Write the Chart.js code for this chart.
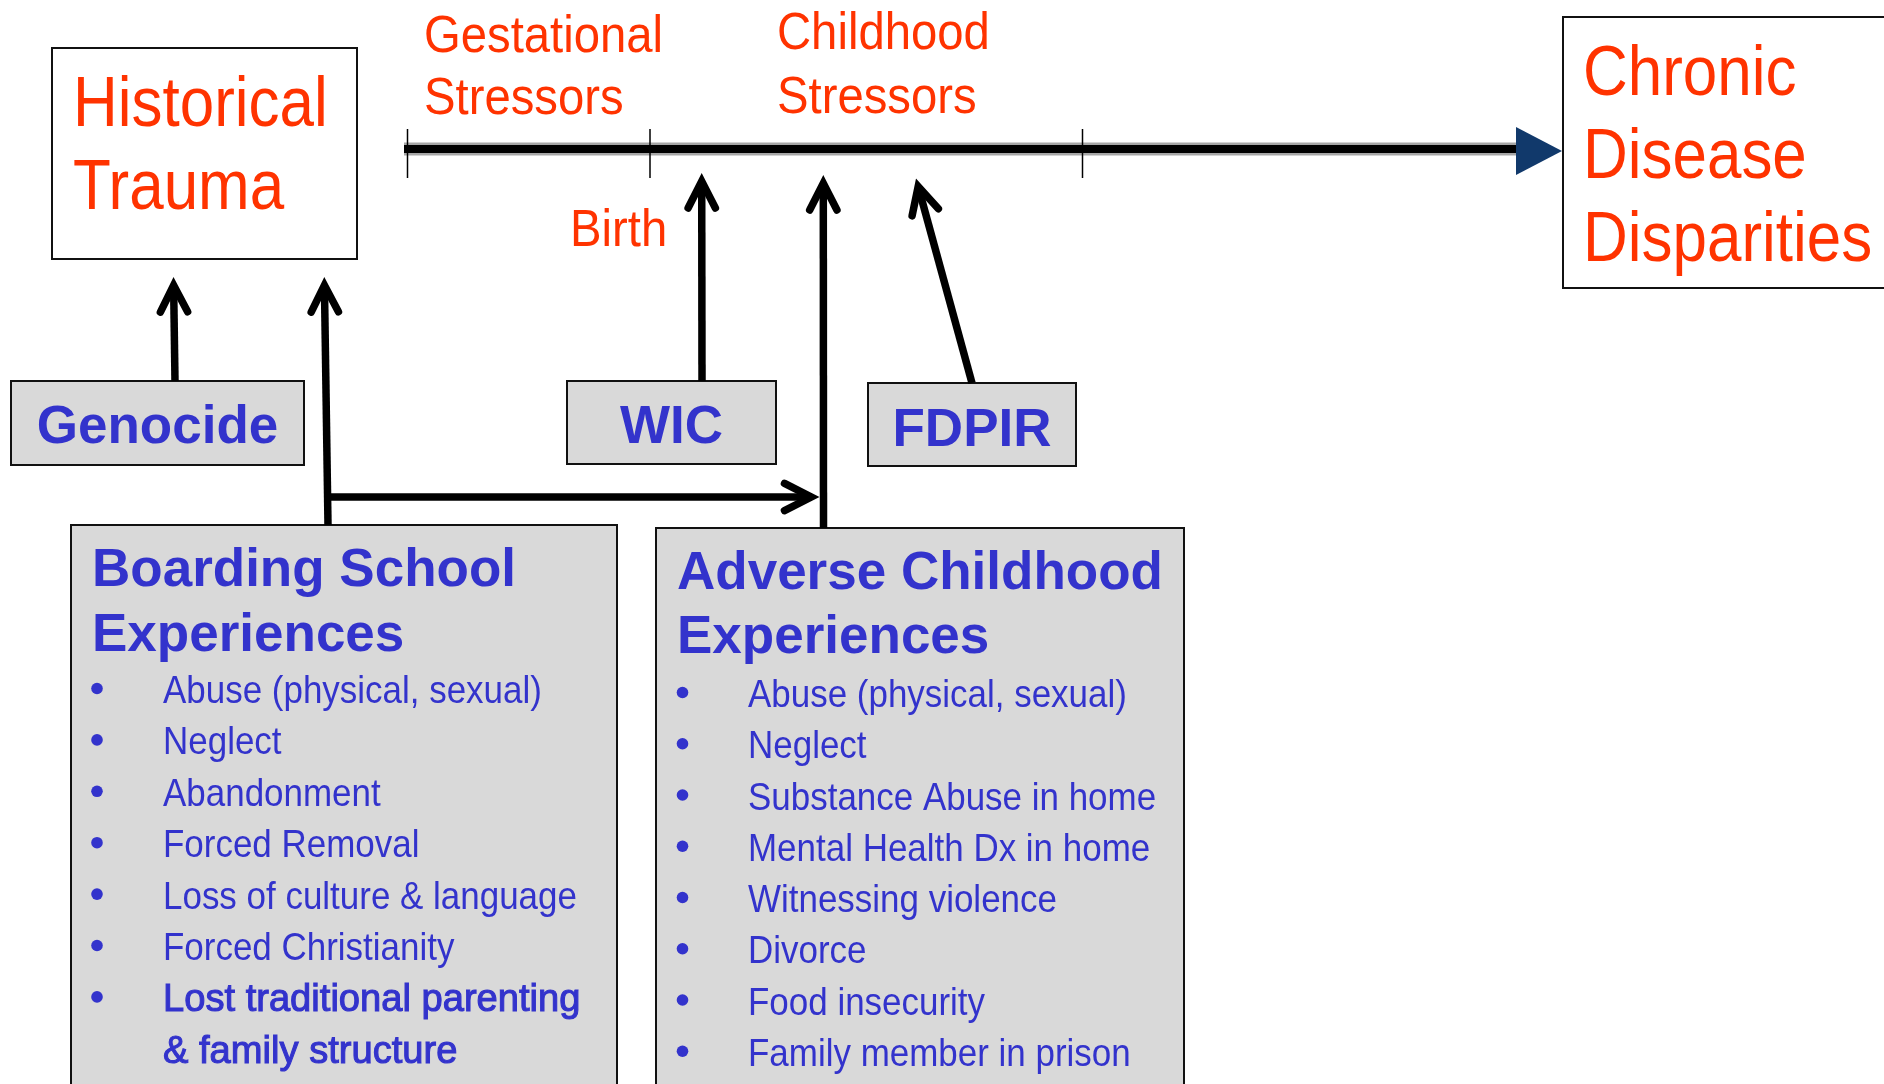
<!DOCTYPE html>
<html>
<head>
<meta charset="utf-8">
<script src="https://cdn.jsdelivr.net/npm/chart.js@4.4.0/dist/chart.umd.min.js"></script>
<style>
  html, body { margin: 0; padding: 0; background: #ffffff; overflow: hidden; }
  #wrap { width: 1884px; height: 1084px; position: relative; }
</style>
</head>
<body>
<div id="wrap"><canvas id="c"></canvas></div>
<script>
// ---------- content (data) ----------
const originLabel = ['Historical', 'Trauma'];
const outcomeLabel = ['Chronic', 'Disease', 'Disparities'];
const stageLabels = [['Gestational', 'Stressors'], ['Childhood', 'Stressors']];
const milestoneLabel = 'Birth';
const programLabels = ['Genocide', 'WIC', 'FDPIR'];
const boardingTitle = ['Boarding School', 'Experiences'];
const boardingItems = ['Abuse (physical, sexual)', 'Neglect', 'Abandonment', 'Forced Removal',
  'Loss of culture & language', 'Forced Christianity', 'Lost traditional parenting', '& family structure'];
const boardingBoldFrom = 6;
const aceTitle = ['Adverse Childhood', 'Experiences'];
const aceItems = ['Abuse (physical, sexual)', 'Neglect', 'Substance Abuse in home', 'Mental Health Dx in home',
  'Witnessing violence', 'Divorce', 'Food insecurity', 'Family member in prison'];

// ---------- layout & style (positions in diagram units = px) ----------
const RED = '#ff3300', BLUE = '#3333cc', GRAY = '#d9d9d9', INK = '#111111';
const NARROW = 0.885;
const HEAVY_STRETCH = 0.965;
const layout = {
  origin: { box: [52, 48, 357, 259], x: 73, base: [126, 209], size: 70 },
  outcome: { box: [1563, 17, 1910, 288], x: 1583, base: [95, 178, 261], size: 70 },
  stages: [{ x: 424, base: [52, 114] }, { x: 777, base: [49, 113] }], stageSize: 52.5,
  milestone: { x: 570, base: 246, size: 52.5 },
  timeline: { y: 149, x0: 404, x1: 1516, ticks: [407.5, 650, 1082.5], tickTop: 129, tickBottom: 178,
              head: [1516, 127, 1516, 175, 1562, 151] },
  programs: [
    { box: [11, 381, 304, 465], base: 443 },
    { box: [567, 381, 776, 464], base: 443 },
    { box: [868, 383, 1076, 466], base: 446 }
  ], programSize: 53,
  boarding: { box: [71, 525, 617, 1110], titleX: 92, titleBase: [586, 651], bulletX: 97, itemX: 163, itemBase0: 703, step: 51.4 },
  ace: { box: [656, 528, 1184, 1110], titleX: 677, titleBase: [589, 653], bulletX: 682.5, itemX: 748, itemBase0: 707, step: 51.25 },
  titleSize: 53, itemSize: 39.5,
  arrows: [
    { from: [175, 381], to: [173.5, 277] },
    { from: [328, 525], to: [324.3, 277] },
    { from: [328, 497], to: [819.5, 497] },
    { from: [702, 381], to: [701.7, 173] },
    { from: [823.5, 528], to: [823.3, 175] },
    { from: [972, 383], to: [916, 178.5] }
  ],
  arrowWidth: 7.5
};

const diagramPlugin = {
  id: 'diagram',
  afterDraw(chart) {
    const ctx = chart.ctx;
    const sx = chart.scales.x, sy = chart.scales.y;
    const X = v => sx.getPixelForValue(v);
    const Y = v => sy.getPixelForValue(v);

    function rect(b, fill, lw) {
      ctx.save();
      ctx.fillStyle = fill;
      ctx.fillRect(X(b[0]), Y(b[1]), X(b[2]) - X(b[0]), Y(b[3]) - Y(b[1]));
      ctx.lineWidth = lw || 2;
      ctx.strokeStyle = INK;
      ctx.strokeRect(X(b[0]), Y(b[1]), X(b[2]) - X(b[0]), Y(b[3]) - Y(b[1]));
      ctx.restore();
    }
    function text(t, x, y, size, color, opts) {
      opts = opts || {};
      ctx.save();
      ctx.font = (opts.bold ? 'bold ' : '') + size + 'px "Liberation Sans", Arial, sans-serif';
      ctx.fillStyle = color;
      ctx.textBaseline = 'alphabetic';
      const stretch = opts.stretch || 1;
      let px = X(x);
      if (opts.center) px -= ctx.measureText(t).width * stretch / 2;
      ctx.translate(px, Y(y));
      ctx.scale(stretch, 1);
      ctx.fillText(t, 0, 0);
      if (opts.heavy) { ctx.lineWidth = opts.heavy; ctx.strokeStyle = color; ctx.strokeText(t, 0, 0); }
      ctx.restore();
    }
    function arrow(a) {
      const [x1, y1] = a.from, [x2, y2] = a.to;
      const dx = x2 - x1, dy = y2 - y1, L = Math.hypot(dx, dy);
      const ux = dx / L, uy = dy / L;
      const w = layout.arrowWidth;
      const off = (w / 2) / Math.sin(Math.PI * 27 / 180);
      const tx = x2 - ux * off, ty = y2 - uy * off;
      const wl = 30, ang = Math.PI * 27 / 180;
      const c = Math.cos(ang), s = Math.sin(ang);
      const bx = -ux, by = -uy;
      const w1 = [tx + wl * (bx * c - by * s), ty + wl * (bx * s + by * c)];
      const w2 = [tx + wl * (bx * c + by * s), ty + wl * (-bx * s + by * c)];
      ctx.save();
      ctx.strokeStyle = '#000';
      ctx.lineWidth = w;
      ctx.lineCap = 'butt';
      ctx.beginPath();
      ctx.moveTo(X(x1), Y(y1));
      ctx.lineTo(X(tx - ux * 2), Y(ty - uy * 2));
      ctx.stroke();
      ctx.lineCap = 'round';
      ctx.lineJoin = 'miter';
      ctx.miterLimit = 10;
      ctx.beginPath();
      ctx.moveTo(X(w1[0]), Y(w1[1]));
      ctx.lineTo(X(tx), Y(ty));
      ctx.lineTo(X(w2[0]), Y(w2[1]));
      ctx.stroke();
      ctx.restore();
    }

    // boxes
    rect(layout.origin.box, '#ffffff', 2);
    rect(layout.outcome.box, '#ffffff', 2);
    layout.programs.forEach(p => rect(p.box, GRAY, 2));
    rect(layout.boarding.box, GRAY, 2);
    rect(layout.ace.box, GRAY, 2);

    // timeline
    const tl = layout.timeline;
    ctx.save();
    ctx.lineCap = 'butt';
    ctx.strokeStyle = 'rgba(0,0,0,0.35)'; ctx.lineWidth = 13;
    ctx.beginPath(); ctx.moveTo(X(tl.x0), Y(tl.y)); ctx.lineTo(X(tl.x1), Y(tl.y)); ctx.stroke();
    ctx.strokeStyle = '#000'; ctx.lineWidth = 8;
    ctx.beginPath(); ctx.moveTo(X(tl.x0), Y(tl.y)); ctx.lineTo(X(tl.x1), Y(tl.y)); ctx.stroke();
    ctx.lineWidth = 1.5; ctx.strokeStyle = '#000';
    tl.ticks.forEach(t => { ctx.beginPath(); ctx.moveTo(X(t), Y(tl.tickTop)); ctx.lineTo(X(t), Y(tl.tickBottom)); ctx.stroke(); });
    const h = tl.head;
    ctx.fillStyle = '#11396b';
    ctx.beginPath(); ctx.moveTo(X(h[0]), Y(h[1])); ctx.lineTo(X(h[2]), Y(h[3])); ctx.lineTo(X(h[4]), Y(h[5])); ctx.closePath(); ctx.fill();
    ctx.restore();

    // arrows
    layout.arrows.forEach(arrow);

    // red texts
    originLabel.forEach((t, i) => text(t, layout.origin.x, layout.origin.base[i], layout.origin.size, RED, { stretch: NARROW }));
    outcomeLabel.forEach((t, i) => text(t, layout.outcome.x, layout.outcome.base[i], layout.outcome.size, RED, { stretch: NARROW }));
    stageLabels.forEach((lines, k) => lines.forEach((t, i) =>
      text(t, layout.stages[k].x, layout.stages[k].base[i], layout.stageSize, RED, { stretch: 0.9 })));
    text(milestoneLabel, layout.milestone.x, layout.milestone.base, layout.milestone.size, RED, { stretch: 0.9 });

    // program boxes
    programLabels.forEach((t, i) => {
      const p = layout.programs[i];
      text(t, (p.box[0] + p.box[2]) / 2, p.base, layout.programSize, BLUE, { bold: true, center: true });
    });

    // lists
    function list(cfg, title, items, boldFrom) {
      title.forEach((t, i) => text(t, cfg.titleX, cfg.titleBase[i], layout.titleSize, BLUE, { bold: true }));
      items.forEach((t, i) => {
        const base = cfg.itemBase0 + cfg.step * i;
        const isHeavy = boldFrom !== undefined && i >= boldFrom;
        const continuation = isHeavy && i > boldFrom;
        if (!continuation) {
          ctx.save();
          ctx.fillStyle = BLUE;
          ctx.beginPath();
          ctx.arc(X(cfg.bulletX), Y(base - 14.5), 5.8, 0, Math.PI * 2);
          ctx.fill();
          ctx.restore();
        }
        text(t, cfg.itemX, base, layout.itemSize, BLUE,
             { stretch: isHeavy ? HEAVY_STRETCH : NARROW, heavy: isHeavy ? 1.1 : 0 });
      });
    }
    list(layout.boarding, boardingTitle, boardingItems, boardingBoldFrom);
    list(layout.ace, aceTitle, aceItems);
  }
};

new Chart(document.getElementById('c'), {
  type: 'scatter',
  data: { datasets: [{ data: [], pointRadius: 0 }] },
  options: {
    responsive: true,
    maintainAspectRatio: false,
    animation: false,
    layout: { padding: 0 },
    plugins: { legend: { display: false }, tooltip: { enabled: false } },
    scales: {
      x: { type: 'linear', min: 0, max: 1884, display: false },
      y: { type: 'linear', min: 0, max: 1084, reverse: true, display: false }
    }
  },
  plugins: [diagramPlugin]
});
</script>
</body>
</html>
